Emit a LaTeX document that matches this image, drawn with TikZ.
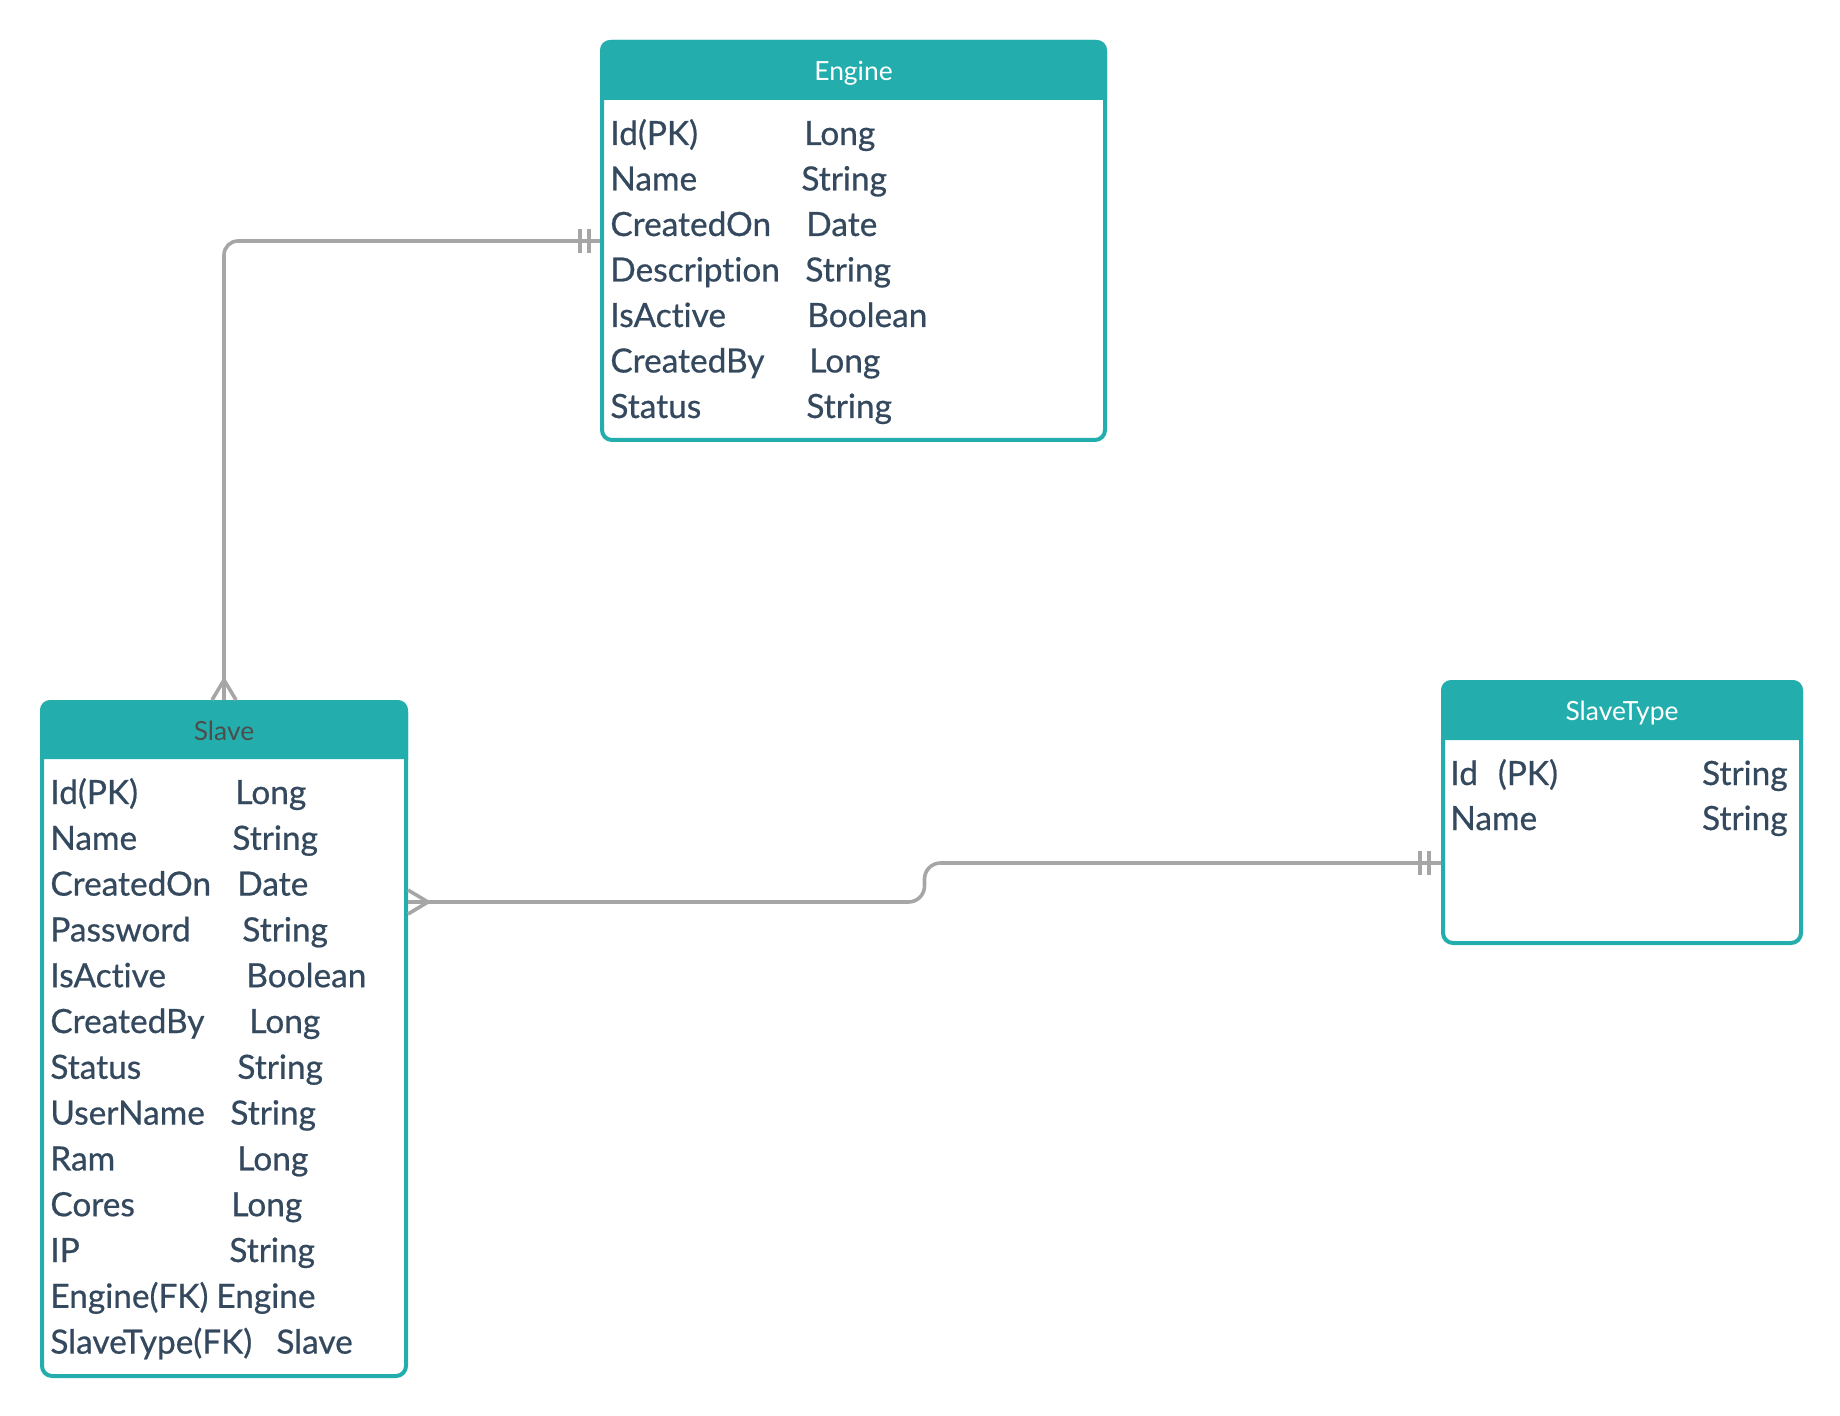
\documentclass[tikz,border=0pt]{standalone}
\usepackage{fontspec}
\setmainfont{Lato}
\newfontfamily\fldfont{Lato}[FakeBold=0.6,Ligatures={NoCommon}]
\usetikzlibrary{calc}

\definecolor{entteal}{RGB}{35,174,173}
\definecolor{fldtxt}{RGB}{52,73,94}
\definecolor{relgray}{RGB}{166,166,166}
\definecolor{hdrdark}{RGB}{77,77,77}

\begin{document}
\begin{tikzpicture}[x=0.5pt,y=-0.5pt,
  ent/.style={draw=entteal,line width=2pt,rounded corners=5pt,fill=white,
    inner sep=0pt,anchor=north west},
  hdr/.style={font=\fontsize{13.2}{16}\selectfont,white,anchor=base,inner sep=0pt},
  fld/.style={font=\fldfont\fontsize{16.7}{20}\selectfont,text=fldtxt,anchor=base west,inner sep=0pt},
  rel/.style={draw=relgray,line width=1.8pt},
]
\useasboundingbox (0,0) rectangle (1840,1416);

%% Layout parameters
\def\hdrH{30pt}   % header band height
\def\rowH{45.5}   % row pitch (px)

%% ================================================================
%%  Engine
%% ================================================================
\node[ent,minimum width=251.5pt,minimum height=199pt] (engine) at (600,40) {};
\fill[entteal] ([yshift=-\hdrH]engine.north west) [rounded corners=5pt]
  -- (engine.north west) -- (engine.north east) [sharp corners]
  -- ([yshift=-\hdrH]engine.north east) -- cycle;
\node[hdr] (engine-hd) at ($(engine.north)+(0,41)$) {Engine};

\foreach \k/\fname/\xt/\ftype in {0/Id(PK)/804/Long, 1/Name/801/String,
  2/CreatedOn/806/Date, 3/Description/805/String, 4/IsActive/807/Boolean,
  5/CreatedBy/809/Long, 6/Status/806/String}
{
  \node[fld] (eng-f\k) at (610,145+\rowH*\k) {\fname};
  \node[fld] (eng-t\k) at (\xt,145+\rowH*\k) {\ftype};
}

%% ================================================================
%%  Slave
%% ================================================================
\node[ent,minimum width=182pt,minimum height=337pt] (slave) at (40,700) {};
\fill[entteal] ([yshift=-29.5pt]slave.north west) [rounded corners=5pt]
  -- (slave.north west) -- (slave.north east) [sharp corners]
  -- ([yshift=-29.5pt]slave.north east) -- cycle;
\node[hdr,hdrdark] (slave-hd) at ($(slave.north)+(0,40)$) {Slave};

\foreach \k/\fname/\xt/\ftype in {0/Id(PK)/235/Long, 1/Name/232/String,
  2/CreatedOn/237/Date, 3/Password/242/String, 4/IsActive/246/Boolean,
  5/CreatedBy/249/Long, 6/Status/237/String, 7/UserName/230/String,
  8/Ram/237/Long, 9/Cores/231/Long, 10/IP/229/String,
  11/Engine(FK)/216/Engine, 12/SlaveType(FK)/276/Slave}
{
  \node[fld] (slv-f\k) at (50,804+45.8*\k) {\fname};
  \node[fld] (slv-t\k) at (\xt,804+45.8*\k) {\ftype};
}

%% ================================================================
%%  SlaveType
%% ================================================================
\node[ent,minimum width=179pt,minimum height=130.5pt] (slavetype) at (1441,680) {};
\fill[entteal] ([yshift=-\hdrH]slavetype.north west) [rounded corners=5pt]
  -- (slavetype.north west) -- (slavetype.north east) [sharp corners]
  -- ([yshift=-\hdrH]slavetype.north east) -- cycle;
\node[hdr] (slavetype-hd) at ($(slavetype.north)+(0,40)$) {SlaveType};

\node[fld] (st-f0) at (1450,785) {Id\hspace{10pt}(PK)};
\node[fld,anchor=base east] (st-t0) at (1788,785) {String};
\node[fld] (st-f1) at (1450,830) {Name};
\node[fld,anchor=base east] (st-t1) at (1788,830) {String};

%% ================================================================
%%  Relations
%% ================================================================
%% Engine (one) -- Slave (many)
\draw[rel,rounded corners=7pt] (engine.west) -| (slave.north);
\draw[rel] ($(engine.west)+(-11,-12)$) -- ++(0,24);
\draw[rel] ($(engine.west)+(-20,-12)$) -- ++(0,24);
\draw[rel] ($(slave.north)+(-12,0)$) -- ($(slave.north)+(0,-20)$)
  -- ($(slave.north)+(12,0)$);

%% SlaveType (one) -- Slave (many)
\coordinate (slv-out) at ($(slave.north east)+(0,202)$);
\coordinate (st-in) at ($(slavetype.north west)+(0,183)$);
\coordinate (rel-mid) at ($(slv-out)!.5!(st-in)$);
\draw[rel,rounded corners=8pt] (slv-out) -| (rel-mid |- st-in) -- (st-in);
\draw[rel] ($(slv-out)+(0,-12)$) -- ($(slv-out)+(20,0)$) -- ($(slv-out)+(0,12)$);
\draw[rel] ($(st-in)+(-12,-12)$) -- ++(0,24);
\draw[rel] ($(st-in)+(-21,-12)$) -- ++(0,24);

\end{tikzpicture}
\end{document}
